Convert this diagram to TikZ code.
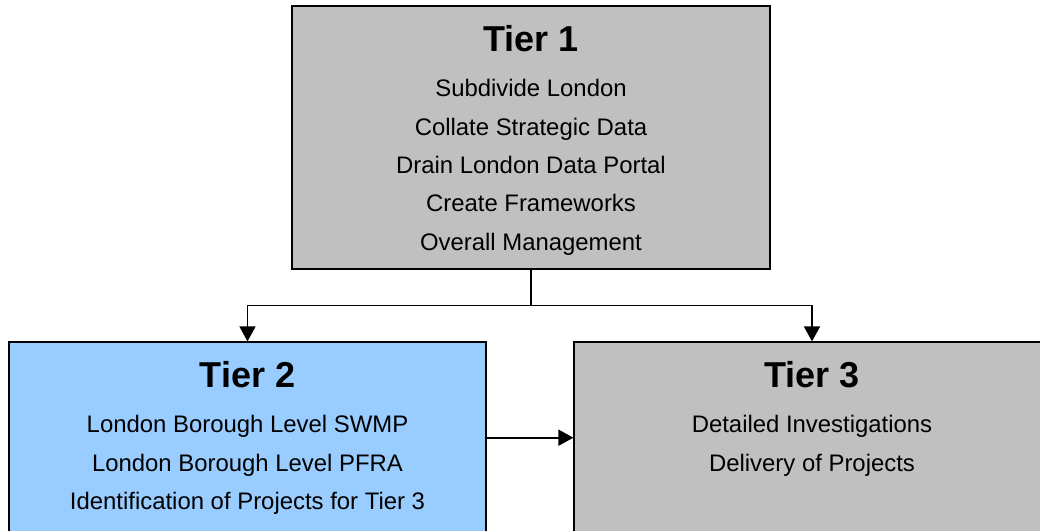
\documentclass[tikz,border=0pt]{standalone}
\usepackage{fontspec}
\setmainfont{Liberation Sans}
\usepackage{tikz}
\usetikzlibrary{arrows.meta, positioning}
\definecolor{tiergray}{HTML}{C0C0C0}
\definecolor{tierblue}{HTML}{99CCFF}
\tikzstyle{tierbox} = [rectangle, draw=black, line width=1.2pt, minimum height=191.4pt, inner sep=0pt]
\tikzstyle{tierhead} = [font=\bfseries\fontsize{36}{40}\selectfont, inner sep=0pt, text height=27pt, text depth=0pt]
\tikzstyle{tiertext} = [font=\fontsize{23.9}{38.3}\selectfont, align=center, inner sep=0pt]
\tikzstyle{arrow} = [line width=1.6pt, -{Triangle[width=16pt,length=15pt]}]

\begin{document}
\begin{tikzpicture}[x=1pt, y=-1pt]
\useasboundingbox (0,0) rectangle (1040,530);
\node (t1) [tierbox, fill=tiergray, minimum width=478pt, minimum height=263pt] at (531,137.5) {};
\node (t2) [tierbox, fill=tierblue, minimum width=477pt] at (247.5,437.7) {};
\node (t3) [tierbox, fill=tiergray, minimum width=476pt] at (812,437.7) {};
% headings and text
\node (t1head) [tierhead, below=19pt of t1.north] {Tier 1};
\node (t1text) [tiertext, below=27.5pt of t1head.south] {Subdivide London\\Collate Strategic Data\\Drain London Data Portal\\Create Frameworks\\Overall Management};
\node (t2head) [tierhead, below=19pt of t2.north] {Tier 2};
\node (t2text) [tiertext, below=27.5pt of t2head.south] {London Borough Level SWMP\\London Borough Level PFRA\\Identification of Projects for Tier 3};
\node (t3head) [tierhead, below=19pt of t3.north] {Tier 3};
\node (t3text) [tiertext, below=27.5pt of t3head.south] {Detailed Investigations\\Delivery of Projects};
% connectors
\coordinate (split) at (531,305.5);
\draw [line width=1.6pt] (t1.south) -- (split);
\draw [arrow] (split) -| (t2.north);
\draw [arrow] (split) -| (t3.north);
\draw [arrow] (t2.east) -- (t3.west);
\end{tikzpicture}
\end{document}
